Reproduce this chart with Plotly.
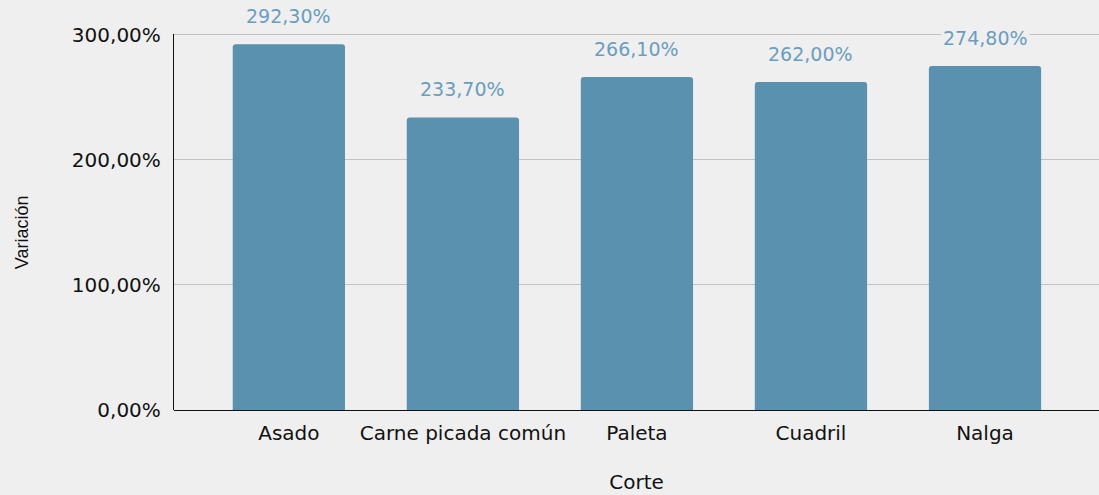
import plotly.graph_objects as go

categories = ["Asado", "Carne picada común", "Paleta", "Cuadril", "Nalga"]
values = [292.3, 233.7, 266.1, 262.0, 274.8]
labels = ["292,30%", "233,70%", "266,10%", "262,00%", "274,80%"]
tick_vals = [0, 100, 200, 300]
tick_text = ["0,00%", "100,00%", "200,00%", "300,00%"]

BG = "#efefef"
FONT = "DejaVu Sans"
GRID = "#c2c2c2"

fig = go.Figure()
fig.add_trace(go.Bar(
    x=categories, y=values,
    marker=dict(color="#5a91ae", cornerradius=3, line=dict(width=0)),
    width=0.645,
    hoverinfo="x+y",
))
# top gridline (at the range edge)
fig.add_shape(type="line", xref="paper", x0=0, x1=1, yref="y",
              y0=tick_vals[-1], y1=tick_vals[-1],
              line=dict(color=GRID, width=1), layer="below")
for c, v, t in zip(categories, values, labels):
    fig.add_annotation(x=c, y=v, text=t, showarrow=False, yanchor="bottom",
                       yshift=15, bgcolor=BG, borderpad=1,
                       font=dict(family=FONT, size=19, color="#6a9dbf"))

# y-axis title as annotation
fig.add_annotation(xref="paper", yref="paper", x=-0.1643, y=0.473,
                   text="Variación", textangle=-90, showarrow=False,
                   xanchor="center", yanchor="middle",
                   font=dict(family="Liberation Sans, Arial", size=18, color="#111111"))

fig.update_layout(
    width=1099, height=495,
    margin=dict(l=174, r=0, t=34, b=85),
    paper_bgcolor=BG, plot_bgcolor=BG,
    showlegend=False,
    font=dict(family=FONT, color="#111111"),
    xaxis=dict(
        type="category", range=[-0.66, 4.655],
        showgrid=False, showline=False, zeroline=False,
        tickfont=dict(family=FONT, size=20, color="#111111"),
        ticks="", ticklabelstandoff=9,
        title=dict(text="Corte", font=dict(family=FONT, size=20), standoff=30),
    ),
    yaxis=dict(
        range=[0, 300.4], tickvals=tick_vals, ticktext=tick_text,
        showgrid=True, gridcolor=GRID, gridwidth=1,
        showline=True, linecolor="#111111", linewidth=1.3,
        zeroline=True, zerolinecolor="#111111", zerolinewidth=1.3,
        tickfont=dict(family=FONT, size=20, color="#111111"),
        ticks="", ticklabelstandoff=8,
    ),
)
fig.write_html("out.html", config={"displayModeBar": False},
               post_script="document.body.style.margin='0';document.body.style.overflow='hidden';")
